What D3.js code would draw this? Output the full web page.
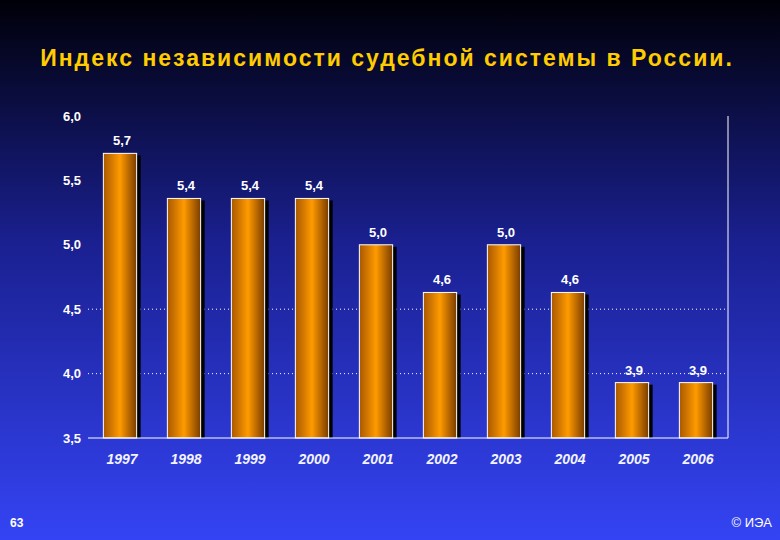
<!DOCTYPE html>
<html><head><meta charset="utf-8">
<script src="https://cdn.jsdelivr.net/npm/d3@7"></script>
<style>body{margin:0;} svg{display:block;}</style>
</head><body><div id="chart"></div>
<script>
"use strict";
const years = ["1997","1998","1999","2000","2001","2002","2003","2004","2005","2006"];
const values = [5.71, 5.36, 5.36, 5.36, 5.0, 4.63, 5.0, 4.63, 3.93, 3.93];
const yTicks = [3.5, 4.0, 4.5, 5.0, 5.5, 6.0];
const fmt = v => d3.format(".1f")(v).replace(".", ",");

let width = 780, height = 540;
let mLeft = 88, mRight = 728, mTop = 116, mBottom = 438;

let svg = d3.select("#chart").append("svg").attr("width", width).attr("height", height);
let defs = svg.append("defs");
let bg = defs.append("linearGradient").attr("id", "bg").attr("x1", 0).attr("y1", 0).attr("x2", 0).attr("y2", 1);
bg.append("stop").attr("offset", "0%").attr("stop-color", "#000008");
bg.append("stop").attr("offset", "45%").attr("stop-color", "#1a2090");
bg.append("stop").attr("offset", "100%").attr("stop-color", "#3444f4");
let bar = defs.append("linearGradient").attr("id", "bar");
bar.append("stop").attr("offset", "0%").attr("stop-color", "#a85800");
bar.append("stop").attr("offset", "50%").attr("stop-color", "#ff9a00");
bar.append("stop").attr("offset", "100%").attr("stop-color", "#7a3c00");

svg.append("rect").attr("width", width).attr("height", height).attr("fill", "url(#bg)");

svg.append("text").attr("x", 387).attr("y", 66).attr("text-anchor", "middle")
    .attr("fill", "#ffcc00").attr("font-family", "Liberation Sans, Arial").attr("font-weight", "bold")
    .attr("font-size", 23).attr("letter-spacing", 2).text("Индекс независимости судебной системы в России.");

let x = d3.scaleBand().domain(years).range([mLeft, mRight]).paddingInner(0.48).paddingOuter(0.24);
let y = d3.scaleLinear().domain([3.5, 6.0]).range([mBottom, mTop]);

// dotted grid lines
svg.selectAll(".grid").data([4.0, 4.5]).enter().append("line")
    .attr("x1", mLeft).attr("x2", mRight).attr("y1", d => y(d)).attr("y2", d => y(d))
    .attr("stroke", "#fff").attr("stroke-width", 1).attr("stroke-dasharray", "1,3");

// y axis labels
let yAxis = svg.append("g").attr("transform", `translate(${mLeft},0)`)
    .call(d3.axisLeft(y).tickValues(yTicks).tickFormat(fmt).tickSize(0).tickPadding(7));
yAxis.select(".domain").remove();
yAxis.selectAll("text").attr("fill", "#fff").attr("font-family", "Liberation Sans, Arial")
    .attr("font-weight", "bold").attr("font-size", 13);

// bars
let g = svg.append("g");
g.selectAll(".shadow").data(values).enter().append("rect")
    .attr("x", (d, i) => x(years[i]) + 4).attr("y", d => y(d) + 2)
    .attr("width", x.bandwidth()).attr("height", d => mBottom - y(d) - 2).attr("fill", "#000");
g.selectAll(".bar").data(values).enter().append("rect")
    .attr("x", (d, i) => x(years[i])).attr("y", d => y(d))
    .attr("width", x.bandwidth()).attr("height", d => mBottom - y(d))
    .attr("fill", "url(#bar)").attr("stroke", "#fff").attr("stroke-width", 1);
g.selectAll(".lab").data(values).enter().append("text")
    .attr("x", (d, i) => x(years[i]) + x.bandwidth() / 2 + 2).attr("y", d => y(d) - 8)
    .attr("text-anchor", "middle").attr("fill", "#fff").attr("font-family", "Liberation Sans, Arial")
    .attr("font-weight", "bold").attr("font-size", 13).text(fmt);

// frame
svg.append("line").attr("x1", mLeft).attr("x2", mRight).attr("y1", mBottom).attr("y2", mBottom).attr("stroke", "#fff");
svg.append("line").attr("x1", mRight).attr("x2", mRight).attr("y1", mTop).attr("y2", mBottom).attr("stroke", "#fff");

// x labels
let xAxis = svg.append("g").attr("transform", `translate(2,${mBottom})`)
    .call(d3.axisBottom(x).tickSize(0).tickPadding(16));
xAxis.select(".domain").remove();
xAxis.selectAll("text").attr("fill", "#f4f4ff").attr("font-family", "Liberation Sans, Arial")
    .attr("font-weight", "bold").attr("font-style", "italic").attr("font-size", 14);

svg.append("text").attr("x", 10).attr("y", 527).attr("fill", "#fff").attr("font-family", "Liberation Sans, Arial")
    .attr("font-weight", "bold").attr("font-size", 12).text("63");
svg.append("text").attr("x", 772).attr("y", 527).attr("text-anchor", "end").attr("fill", "#fff")
    .attr("font-family", "Liberation Sans, Arial").attr("font-size", 13).text("© ИЭА");
</script></body></html>
